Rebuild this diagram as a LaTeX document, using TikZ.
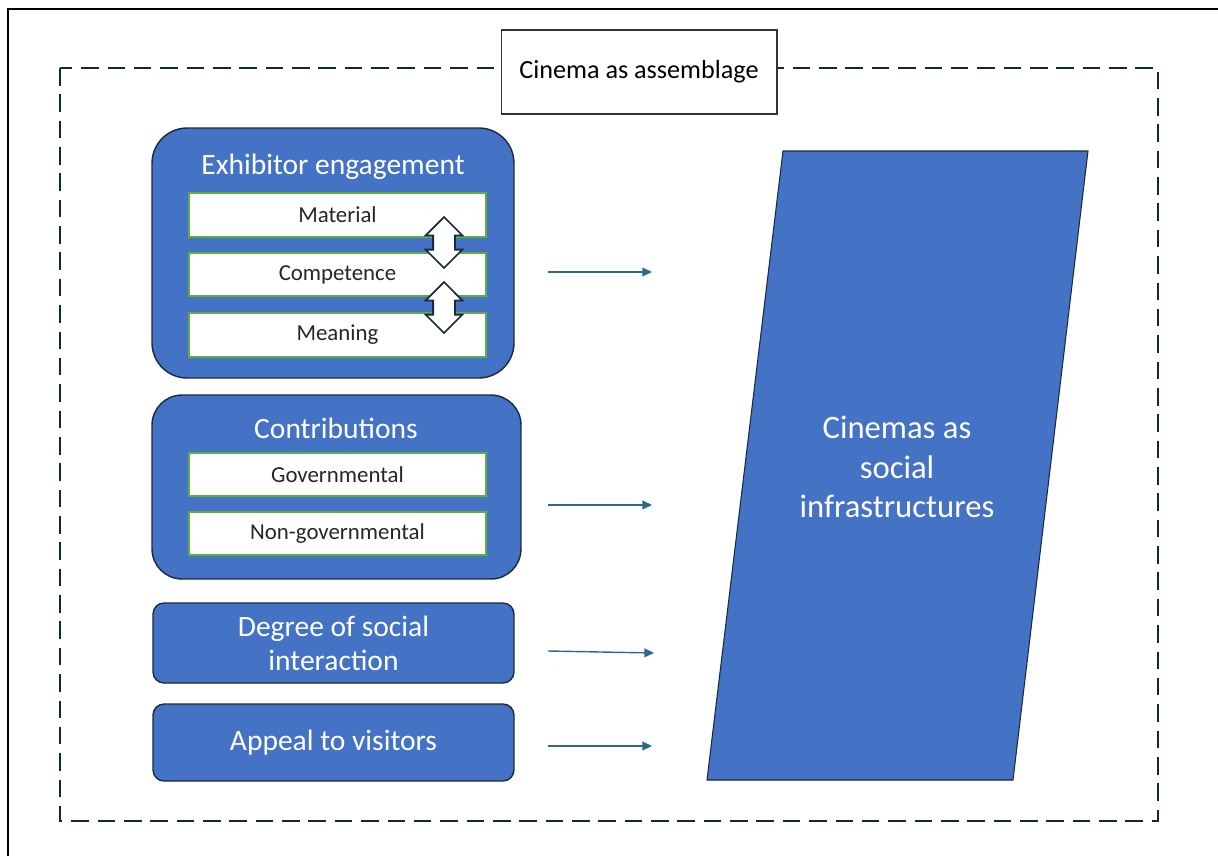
\documentclass[tikz,border=0pt]{standalone}
\usepackage{fontspec}
\setmainfont{Carlito}
\usetikzlibrary{positioning, arrows.meta, shapes.arrows}

\definecolor{blaa}{HTML}{4472C4}
\definecolor{kant}{HTML}{1B2A3B}
\definecolor{gronn}{HTML}{5FAE3E}
\definecolor{pilfarge}{HTML}{2A6A8C}
\definecolor{strek}{HTML}{10283A}

\begin{document}
\begin{tikzpicture}[x=0.02cm, y=-0.02cm]
        \tikzset{
            % Define style for the blue boxes
            boks/.style={
                    rectangle,
                    draw=kant, line width=0.8pt,
                    fill=blaa,
                    text=white,
                    font=\fontsize{16.8}{19.5}\selectfont,
                    align=center},
            % Define style for the white boxes inside
            felt/.style={
                    rectangle,
                    draw=gronn, line width=1.1pt,
                    fill=white,
                    text=black!85,
                    minimum width=5.94cm,
                    minimum height=0.87cm,
                    font=\fontsize{13}{15}\selectfont},
            % Define arrow style
            pil/.style={
                    -{Triangle[length=5.5pt, width=5pt]},
                    draw=pilfarge, line width=0.8pt},
            % Define style for the two-headed arrows
            dobbelpil/.style={
                    double arrow,
                    draw=kant, line width=1pt,
                    fill=white,
                    inner xsep=0pt, inner ysep=0.2cm,
                    rotate=90,
                    minimum height=1.02cm,
                    minimum width=0pt,
                    double arrow head extend=0.15cm},
        }
        \useasboundingbox (0,0) rectangle (1218,856);

        % Frame and dashed border
        \draw[line width=1.4pt] (8,856) -- (8,9) -- (1218,9);
        \draw[strek, line width=1.2pt, dash pattern=on 10pt off 5pt] (60,68) rectangle (1158,821);
        \node[rectangle, draw=black!80, line width=0.6pt, fill=white,
              minimum width=5.52cm, minimum height=1.68cm,
              font=\fontsize{14.9}{17}\selectfont] (tittel) at (639,72) {Cinema as assemblage};

        % Draw the boxes on the left
        \node[boks, rounded corners=0.7cm, minimum width=7.24cm, minimum height=5cm] (ex) at (333,253) {};
        \node[text=white, font=\fontsize{16.8}{19.5}\selectfont] (ext) at (333,167) {Exhibitor engagement};
        \node[felt] (mat) at (337.5,215) {Material};
        \node[felt] (komp) at (337.5,274.5) {Competence};
        \node[felt] (mean) at (337.5,335) {Meaning};
        \node[dobbelpil] (d1) at (444,242.5) {};
        \node[dobbelpil] (d2) at (444,307.5) {};

        \node[boks, rounded corners=0.6cm, minimum width=7.38cm, minimum height=3.68cm] (bidrag) at (336.5,487) {};
        \node[text=white, font=\fontsize{16.8}{19.5}\selectfont] (bidragt) at (336,428) {Contributions};
        \node[felt] (gov) at (337.5,474.5) {Governmental};
        \node[felt] (ngov) at (337.5,533.5) {Non-governmental};

        \node[boks, rounded corners=0.22cm, minimum width=7.22cm, minimum height=1.6cm] (sosial) at (333.5,643) {Degree of social\\interaction};
        \node[boks, rounded corners=0.22cm, minimum width=7.22cm, minimum height=1.54cm] (appell) at (333.5,742.5) {Appeal to visitors};

        % The parallelogram on the right
        \draw[draw=kant, line width=0.6pt, fill=blaa]
              (783,151) coordinate (p1) -- (1088,151) coordinate (p2)
              -- (1013,780) coordinate (p3) -- (707,780) coordinate (p4) -- cycle;
        \node[text=white, align=center, font=\fontsize{18.6}{22.5}\selectfont] (infra) at (897,467)
              {Cinemas as\\social\\infrastructures};

        % Arrows towards the parallelogram
        \coordinate (a1) at (548,272);  \coordinate (b1) at (652,272);
        \coordinate (a2) at (548,505);  \coordinate (b2) at (652,505);
        \coordinate (a3) at (548,651);  \coordinate (b3) at (654,653);
        \coordinate (a4) at (548,746);  \coordinate (b4) at (652,746);
        \draw[pil] (a1) -- (b1);
        \draw[pil] (a2) -- (b2);
        \draw[pil] (a3) -- (b3);
        \draw[pil] (a4) -- (b4);
\end{tikzpicture}
\end{document}
